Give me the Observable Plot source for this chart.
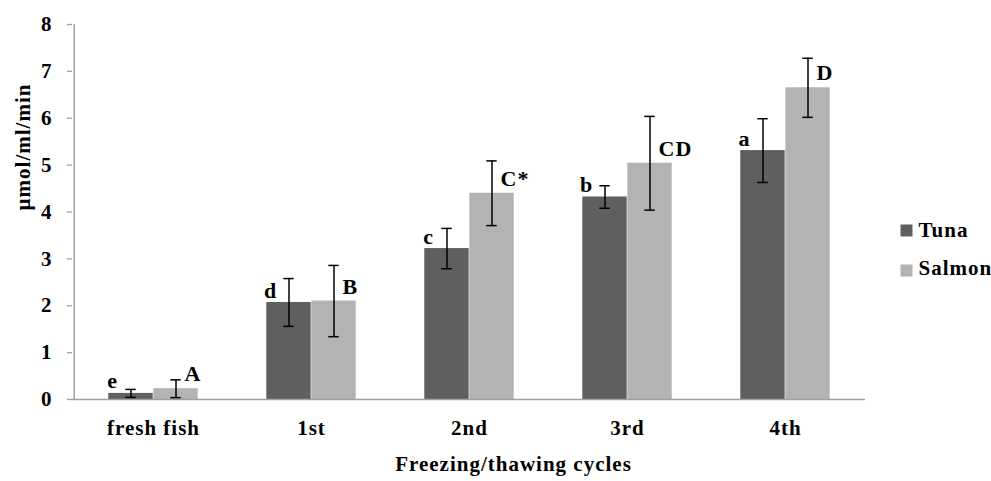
<!DOCTYPE html>
<html>
<head>
<meta charset="utf-8">
<script src="https://cdn.jsdelivr.net/npm/d3@7"></script>
<script src="https://cdn.jsdelivr.net/npm/@observablehq/plot@0.6"></script>
<style>
  html, body { margin: 0; padding: 0; background: white; }
  svg text { font-family: "Liberation Serif", "Times New Roman", serif !important; font-weight: bold; letter-spacing: 1px; }
</style>
</head>
<body>
<div id="chart"></div>
<script>
const categories = ["fresh fish", "1st", "2nd", "3rd", "4th"];
const seriesNames = ["Tuna", "Salmon"];
const tunaMean = [0.13, 2.07, 3.22, 4.32, 5.31];
const tunaErr = [0.085, 0.51, 0.43, 0.24, 0.68];
const salmonMean = [0.23, 2.10, 4.40, 5.04, 6.65];
const salmonErr = [0.19, 0.76, 0.69, 1.00, 0.63];
const tunaLetters = ["e", "d", "c", "b", "a"];
const salmonLetters = ["A", "B", "C*", "CD", "D"];
const yTicks = [0, 1, 2, 3, 4, 5, 6, 7, 8];
const colors = {Tuna: "#5f5f5f", Salmon: "#b3b3b3"};

const tuna = categories.map((c, i) => ({c, v: tunaMean[i], e: tunaErr[i], lab: tunaLetters[i]}));
const salmon = categories.map((c, i) => ({c, v: salmonMean[i], e: salmonErr[i], lab: salmonLetters[i]}));

const W = 991, H = 481, ML = 72, MR = 126, MT = 24, MB = 82;
const step = (W - ML - MR) / categories.length;
const bw = 45;   // bar width
const cap = 11;  // error cap width
const half = step / 2;
const font = "Liberation Serif";
const fs = 21;

const chart = Plot.plot({
  width: W, height: H,
  marginLeft: ML, marginRight: MR, marginTop: MT, marginBottom: MB,
  style: {fontFamily: font, fontSize: fs + "px", fontWeight: "bold", color: "black", background: "white"},
  x: {domain: categories, padding: 0, label: null},
  y: {domain: [0, 8], label: null},
  marks: [
    Plot.axisY({ticks: yTicks, tickSize: 5, tickPadding: 15, stroke: "#a0a0a0", strokeWidth: 1.3, fill: "black", label: null, fontSize: fs, tickFormat: d => String(d)}),
    Plot.axisX({tickSize: 0, tickPadding: 21, label: null, fill: "black", fontSize: fs}),
    // bars
    Plot.barY(tuna, {x: "c", y: "v", fill: colors.Tuna, insetLeft: half - bw, insetRight: half}),
    Plot.barY(salmon, {x: "c", y: "v", fill: colors.Salmon, insetLeft: half, insetRight: half - bw}),
    // axis lines
    Plot.ruleY([0], {stroke: "#a0a0a0", strokeWidth: 1.5}),
    Plot.ruleX([categories[0]], {dx: -half, y1: 0, y2: 8, stroke: "#a0a0a0", strokeWidth: 1.5}),
    // error bars
    Plot.ruleX(tuna, {x: "c", y1: d => d.v - d.e, y2: d => d.v + d.e, dx: -bw / 2, stroke: "black", strokeWidth: 1.5}),
    Plot.ruleX(salmon, {x: "c", y1: d => d.v - d.e, y2: d => d.v + d.e, dx: bw / 2, stroke: "black", strokeWidth: 1.5}),
    Plot.tickY(tuna, {x: "c", y: d => d.v + d.e, insetLeft: half - bw / 2 - cap / 2, insetRight: half + bw / 2 - cap / 2, stroke: "black", strokeWidth: 1.5}),
    Plot.tickY(tuna, {x: "c", y: d => d.v - d.e, insetLeft: half - bw / 2 - cap / 2, insetRight: half + bw / 2 - cap / 2, stroke: "black", strokeWidth: 1.5}),
    Plot.tickY(salmon, {x: "c", y: d => d.v + d.e, insetLeft: half + bw / 2 - cap / 2, insetRight: half - bw / 2 - cap / 2, stroke: "black", strokeWidth: 1.5}),
    Plot.tickY(salmon, {x: "c", y: d => d.v - d.e, insetLeft: half + bw / 2 - cap / 2, insetRight: half - bw / 2 - cap / 2, stroke: "black", strokeWidth: 1.5}),
    // significance letters
    Plot.text(tuna, {x: "c", y: "v", text: "lab", dx: -41, dy: -12, textAnchor: "middle", fontFamily: font, fontWeight: "bold", fontSize: 22, fill: "black"}),
    Plot.text(salmon, {x: "c", y: "v", text: "lab", dx: 31, dy: -14.5, textAnchor: "start", fontFamily: font, fontWeight: "bold", fontSize: 22, fill: "black"}),
    // axis titles
    Plot.text(["µmol/ml/min"], {frameAnchor: "left", rotate: -90, dx: -49, dy: -1.5, fontFamily: font, fontWeight: "bold", fontSize: fs, fill: "black"}),
    Plot.text(["Freezing/thawing cycles"], {frameAnchor: "bottom", dx: 44.5, dy: 71, fontFamily: font, fontWeight: "bold", fontSize: fs, fill: "black"}),
    // legend
    Plot.dot([seriesNames[0]], {frameAnchor: "right", dx: 41, dy: 18.5, symbol: "square", r: 6.77, fill: colors.Tuna, stroke: null}),
    Plot.dot([seriesNames[1]], {frameAnchor: "right", dx: 41, dy: 58.5, symbol: "square", r: 6.77, fill: colors.Salmon, stroke: null}),
    Plot.text([seriesNames[0]], {frameAnchor: "right", dx: 53, dy: 18.5, textAnchor: "start", fontFamily: font, fontWeight: "bold", fontSize: fs, fill: "black"}),
    Plot.text([seriesNames[1]], {frameAnchor: "right", dx: 53, dy: 56.5, textAnchor: "start", fontFamily: font, fontWeight: "bold", fontSize: fs, fill: "black"})
  ]
});
document.getElementById("chart").append(chart);
</script>
</body>
</html>
